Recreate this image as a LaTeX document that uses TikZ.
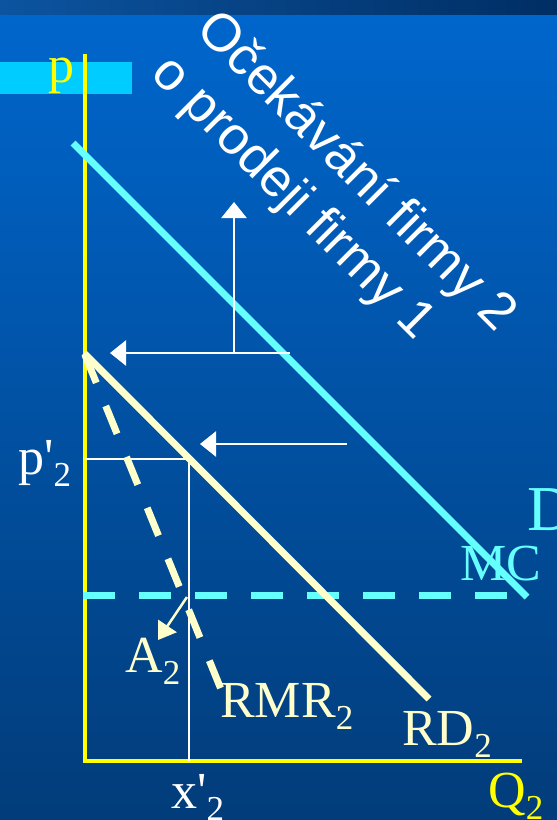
\documentclass[tikz,border=0pt]{standalone}
\usepackage{fontspec}
\usetikzlibrary{arrows.meta}
\newfontfamily\lserif{Liberation Serif}
\newfontfamily\lsans{Liberation Sans}
\definecolor{bgtop}{RGB}{0,102,204}
\definecolor{bgbot}{RGB}{2,60,122}
\definecolor{stripl}{RGB}{12,84,160}
\definecolor{stripr}{RGB}{0,46,100}
\definecolor{boxcyan}{RGB}{0,204,255}
\definecolor{lcyan}{RGB}{102,255,255}
\definecolor{lyellow}{RGB}{255,255,204}
\definecolor{axyellow}{RGB}{255,255,0}
\newcommand{\sbs}[1]{\raisebox{-0.24em}{\fontsize{35}{35}\selectfont #1}}
\newcommand{\prm}{\char39}
\tikzset{
  axisline/.style={draw=axyellow, line width=4pt, line join=miter},
  curvecyan/.style={draw=lcyan, line width=7pt},
  curveyel/.style={draw=lyellow, line width=7pt},
  guide/.style={draw=white, line width=2pt},
  shiftarrow/.style={draw=white, line width=2.5pt, -{Triangle[length=16pt,width=25pt]}},
  lab/.style={anchor=base west, inner sep=0pt, font=\lserif\fontsize{52}{52}\selectfont},
  rottext/.style={anchor=base west, inner sep=0pt, rotate=-45, text=white, font=\lsans\fontsize{53}{53}\selectfont}
}
\begin{document}
\begin{tikzpicture}[x=1pt,y=-1pt]
\useasboundingbox (0,0) rectangle (557,820);
\shade[top color=bgtop, bottom color=bgbot] (0,14) rectangle (557,820);
\shade[left color=stripl, right color=stripr] (0,0) rectangle (557,14);
\fill[boxcyan] (0,62) rectangle (132,94);

% coordinates
\coordinate (ytop) at (84.5,54);
\coordinate (orig) at (84.5,761);
\coordinate (xend) at (522,761);
\coordinate (Dtop) at (73,143);
\coordinate (Dbot) at (527,597);
\coordinate (RDtop) at (84,353);
\coordinate (RDbot) at (429,699);
\coordinate (RMRtop) at (85,355);
\coordinate (RMRbot) at (220.5,688);
\coordinate (MCl) at (83,595.5);
\coordinate (MCr) at (507,595.5);
\coordinate (pax) at (84.5,459);
\coordinate (pq) at (189,459);
\coordinate (xq) at (189,761);
\coordinate (a1s) at (290,353);
\coordinate (a1e) at (110,353);
\coordinate (a1m) at (234,353);
\coordinate (a1u) at (234,202);
\coordinate (a2s) at (347,444);
\coordinate (a2e) at (200,444);
\coordinate (aAs) at (187,597);
\coordinate (aAe) at (158,640);

% labels
\node[lab, text=axyellow] (plab) at (48,82) {p};
\node[lab, text=white] (p2lab) at (18,474) {p\prm\sbs{2}};
\node[lab, text=white] (x2lab) at (171,808) {x\prm\sbs{2}};
\node[lab, text=lyellow] (A2lab) at (125,672) {A\sbs{2}};
\node[lab, text=lyellow] (RMRlab) at (220,717) {RMR\sbs{2}};
\node[lab, text=lyellow] (RDlab) at (402,745) {RD\sbs{2}};
\node[lab, text=axyellow] (Qlab) at (488,807) {Q\sbs{2}};
\node[anchor=base west, inner sep=0pt, font=\lserif\fontsize{64}{64}\selectfont, text=lcyan] (Dlab) at (527,530) {D};
\node[lab, text=lcyan] (MClab) at (460,580) {MC};

\node[rottext] (t1) at (194,31) {Očekávání firmy 2};
\node[rottext] (t2) at (149,75) {o prodeji firmy 1};

% axes
\draw[axisline] (ytop) -- (orig) -- (xend);

% guide lines
\draw[guide] (pax) -- (pq) -- (xq);

% curves
\draw[curvecyan] (Dtop) -- (Dbot);
\draw[curvecyan, dash pattern=on 32pt off 24pt, line width=7pt] (MCl) -- (MCr);
\draw[curveyel] (RDtop) -- (RDbot);
\draw[curveyel, dash pattern=on 30pt off 25pt] (RMRtop) -- (RMRbot);

% shift arrows
\draw[shiftarrow] (a1s) -- (a1e);
\draw[shiftarrow] (a1m) -- (a1u);
\draw[shiftarrow] (a2s) -- (a2e);
\draw[draw=lyellow, line width=2.5pt, -{Triangle[length=17pt,width=22pt]}] (aAs) -- (aAe);
\end{tikzpicture}
\end{document}
